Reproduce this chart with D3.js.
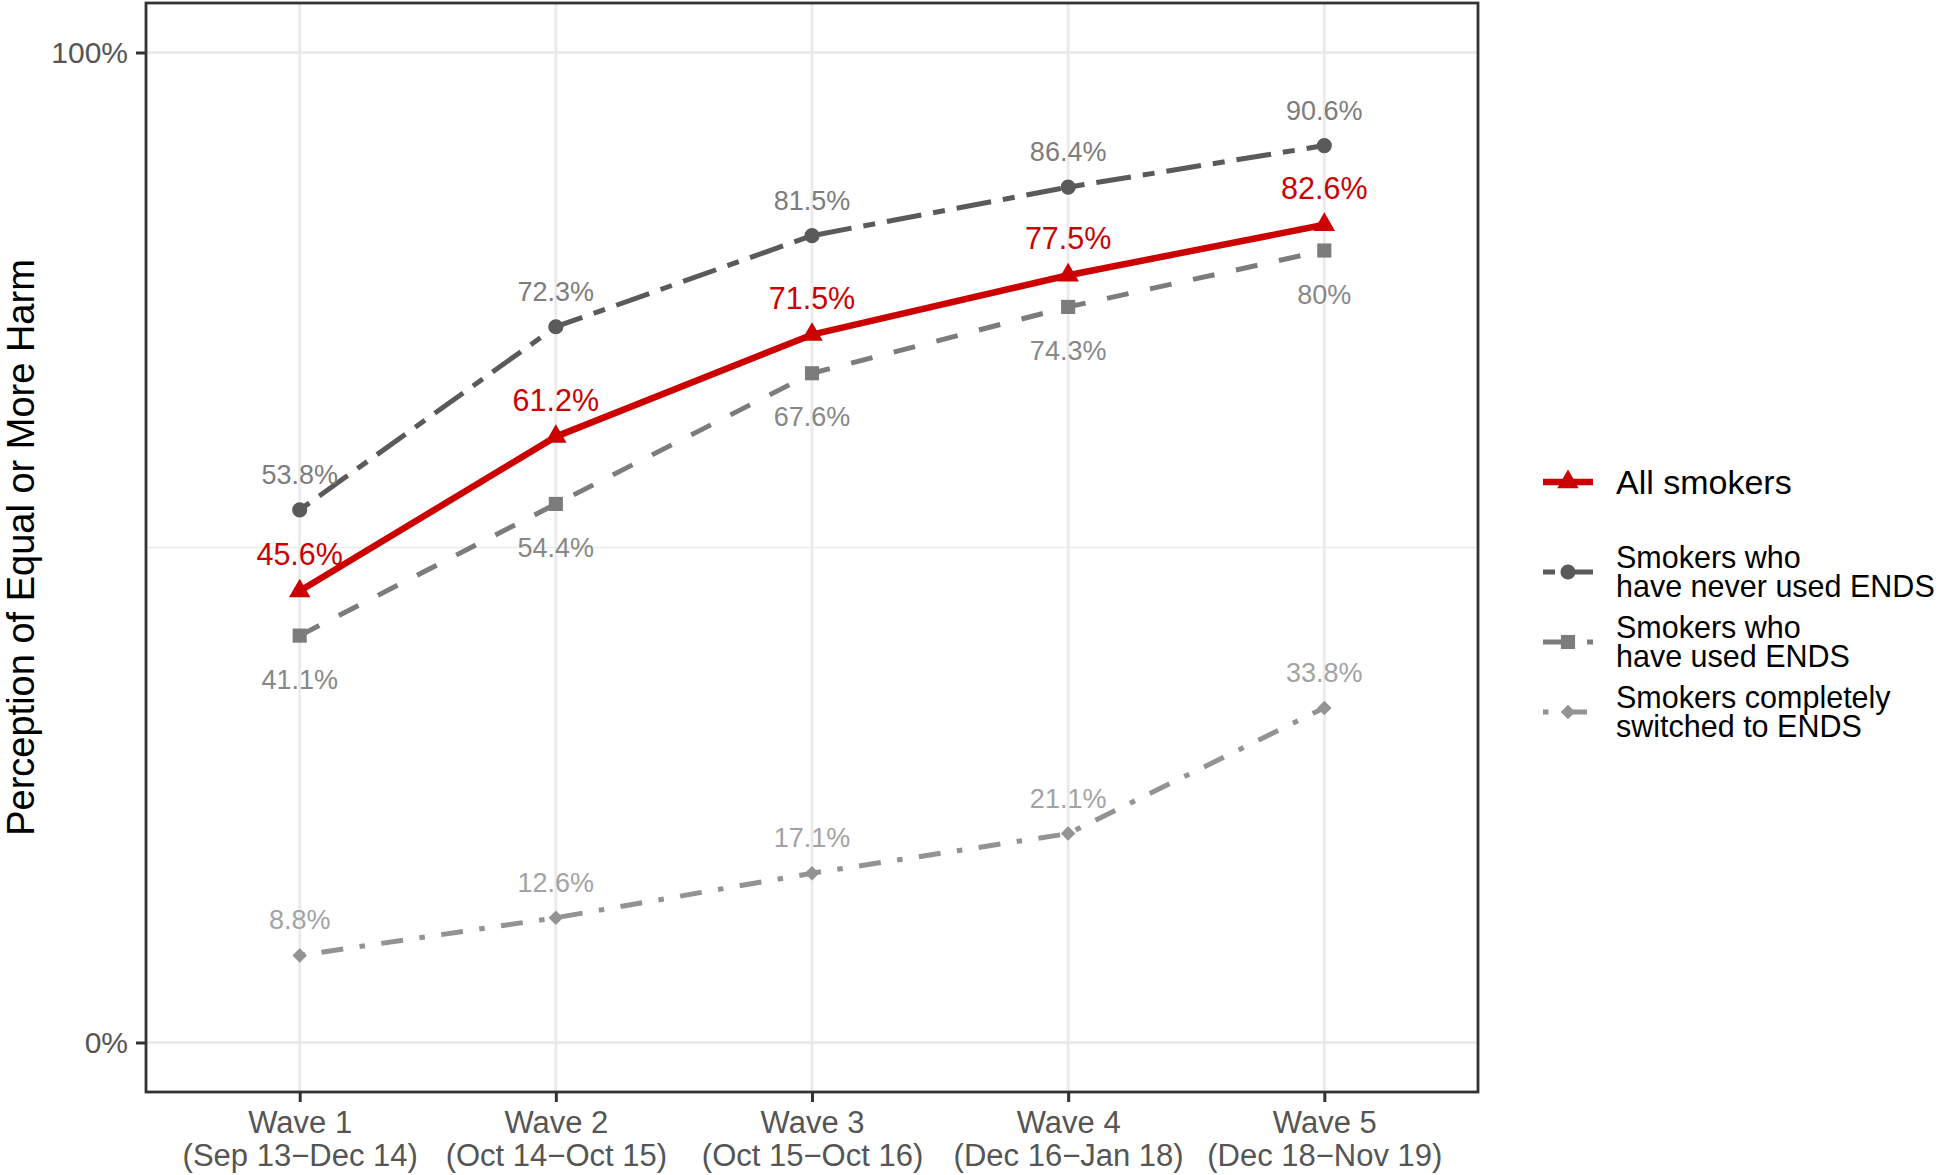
<!DOCTYPE html>
<html>
<head>
<meta charset="utf-8">
<script src="https://cdn.jsdelivr.net/npm/d3@7"></script>
<style>
  body { margin: 0; background: #fff; }
  svg { display: block; font-family: "Liberation Sans", Arial, sans-serif; }
</style>
</head>
<body>
<div id="chart"></div>
<script>
// data
const waves = ["Wave 1", "Wave 2", "Wave 3", "Wave 4", "Wave 5"];
const periods = ["(Sep 13\u2212Dec 14)", "(Oct 14\u2212Oct 15)", "(Oct 15\u2212Oct 16)", "(Dec 16\u2212Jan 18)", "(Dec 18\u2212Nov 19)"];
const allSmokers = [45.6, 61.2, 71.5, 77.5, 82.6];
const neverUsed = [53.8, 72.3, 81.5, 86.4, 90.6];
const usedEnds = [41.1, 54.4, 67.6, 74.3, 80];
const switchedEnds = [8.8, 12.6, 17.1, 21.1, 33.8];
const yTicks = [0, 100];
const yMinor = [50];

const width = 1944, height = 1175;
const panel = {left: 146, right: 1478, top: 3, bottom: 1092};

// series styles (drawn in this order, red on top)
const series = [
  {name: "Smokers who\nhave never used ENDS", values: neverUsed, color: "#5a5a5a", label: "#7d7d7d",
   dash: "12,12,35,12", width: 5, shape: "circle", labelPos: "above", fontSize: 27},
  {name: "Smokers who\nhave used ENDS", values: usedEnds, color: "#7c7c7c", label: "#888888",
   dash: "22,22", width: 5, shape: "square", labelPos: "below", fontSize: 27},
  {name: "Smokers completely\nswitched to ENDS", values: switchedEnds, color: "#939393", label: "#a3a3a3",
   dash: "5.5,16.5,22,16.5", width: 5, shape: "diamond", labelPos: "above", fontSize: 27},
  {name: "All smokers", values: allSmokers, color: "#cc0000", label: "#cc0000",
   dash: null, width: 6.5, shape: "triangle", labelPos: "above", fontSize: 30.5}
];

const x = d3.scalePoint()
    .domain(waves)
    .range([panel.left, panel.right])
    .padding(0.6);

const y = d3.scaleLinear()
    .domain([-5, 105])
    .range([panel.bottom, panel.top]);

const svg = d3.select("#chart").append("svg")
    .attr("width", width)
    .attr("height", height);

// grid
const grid = svg.append("g");
grid.selectAll("line.minor").data(yMinor).join("line")
    .attr("x1", panel.left).attr("x2", panel.right)
    .attr("y1", d => y(d)).attr("y2", d => y(d))
    .attr("stroke", "#ebebeb").attr("stroke-width", 1.5);
grid.selectAll("line.majy").data(yTicks).join("line")
    .attr("x1", panel.left).attr("x2", panel.right)
    .attr("y1", d => y(d)).attr("y2", d => y(d))
    .attr("stroke", "#ebebeb").attr("stroke-width", 3);
grid.selectAll("line.majx").data(waves).join("line")
    .attr("x1", d => x(d)).attr("x2", d => x(d))
    .attr("y1", panel.top).attr("y2", panel.bottom)
    .attr("stroke", "#ebebeb").attr("stroke-width", 3);

const shapes = {
  circle: d3.symbol().type(d3.symbolCircle).size(180),
  square: d3.symbol().type(d3.symbolSquare).size(200),
  diamond: d3.symbol().type(d3.symbolSquare).size(105),
  triangle: d3.symbol().type(d3.symbolTriangle).size(200)
};
const shapeRot = {circle: 0, square: 0, diamond: 45, triangle: 0};

const line = d3.line()
    .x((d, i) => x(waves[i]))
    .y(d => y(d));

// lines, points, labels
series.forEach(s => {
  const g = svg.append("g");
  g.append("path")
      .attr("d", line(s.values))
      .attr("fill", "none")
      .attr("stroke", s.color)
      .attr("stroke-width", s.width)
      .attr("stroke-dasharray", s.dash)
      .attr("stroke-linejoin", "round");
  g.selectAll("path.pt").data(s.values).join("path")
      .attr("class", "pt")
      .attr("transform", (d, i) => `translate(${x(waves[i])},${y(d)}) rotate(${shapeRot[s.shape]})`)
      .attr("d", shapes[s.shape]())
      .attr("fill", s.color);
  g.selectAll("text").data(s.values).join("text")
      .attr("x", (d, i) => x(waves[i]))
      .attr("y", d => s.labelPos === "above" ? y(d) - 26 : y(d) + 53)
      .attr("text-anchor", "middle")
      .attr("font-size", s.fontSize)
      .attr("fill", s.label)
      .text(d => d + "%");
});

// panel border
svg.append("rect")
    .attr("x", panel.left).attr("y", panel.top)
    .attr("width", panel.right - panel.left)
    .attr("height", panel.bottom - panel.top)
    .attr("fill", "none")
    .attr("stroke", "#333")
    .attr("stroke-width", 2.8);

// y axis
const yAxis = svg.append("g")
    .attr("transform", `translate(${panel.left},0)`)
    .call(d3.axisLeft(y).tickValues(yTicks).tickFormat(d => d + "%").tickSize(10).tickPadding(8));
yAxis.select(".domain").remove();
yAxis.selectAll(".tick line").attr("stroke", "#333").attr("stroke-width", 3);
yAxis.selectAll(".tick text")
    .attr("font-size", 30).attr("fill", "#555")
    .attr("font-family", "Liberation Sans, Arial, sans-serif");

// x axis, two-line labels
const xAxis = svg.append("g")
    .attr("transform", `translate(0,${panel.bottom})`)
    .call(d3.axisBottom(x).tickSize(10).tickFormat(""));
xAxis.select(".domain").remove();
xAxis.selectAll(".tick line").attr("stroke", "#333").attr("stroke-width", 3);
xAxis.selectAll(".tick text").remove();
xAxis.selectAll(".tick").append("text")
    .attr("text-anchor", "middle")
    .attr("font-size", 31)
    .attr("fill", "#555")
    .attr("font-family", "Liberation Sans, Arial, sans-serif")
    .each(function(d, i) {
      const t = d3.select(this);
      t.append("tspan").attr("x", 0).attr("y", 41).text(d);
      t.append("tspan").attr("x", 0).attr("y", 74).text(periods[i]);
    });

// y axis title
svg.append("text")
    .attr("transform", `translate(34,${(panel.top + panel.bottom) / 2}) rotate(-90)`)
    .attr("text-anchor", "middle")
    .attr("font-size", 38)
    .attr("fill", "#000")
    .text("Perception of Equal or More Harm");

// legend
const legendItems = [series[3], series[0], series[1], series[2]];
const legendY = [482, 572, 642, 712];
const keyX0 = 1543, keyX1 = 1593, keyMid = 1568;

const legend = svg.append("g");
svg.append("clipPath").attr("id", "keyclip")
  .append("rect").attr("x", keyX0).attr("y", 440).attr("width", keyX1 - keyX0).attr("height", 320);

legendItems.forEach((s, i) => {
  const ly = legendY[i];
  const k = legend.append("g");
  k.append("line")
      .attr("x1", keyX0).attr("x2", keyX1 + 40)
      .attr("y1", ly).attr("y2", ly)
      .attr("stroke", s.color)
      .attr("stroke-width", s.width)
      .attr("stroke-dasharray", s.dash)
      .attr("clip-path", "url(#keyclip)");
  k.append("path")
      .attr("transform", `translate(${keyMid},${ly}) rotate(${shapeRot[s.shape]})`)
      .attr("d", shapes[s.shape]())
      .attr("fill", s.color);

  // one text per line
  const lines = s.name.split("\n");
  const fs = lines.length === 1 ? 34 : 30.5;
  const lh = 29.5;
  lines.forEach((l, j) => {
    legend.append("text")
        .attr("x", 1616)
        .attr("y", ly + (j - (lines.length - 1) / 2) * lh + fs * 0.35)
        .attr("font-size", fs)
        .attr("fill", "#000")
        .text(l);
  });
});
</script>
</body>
</html>
